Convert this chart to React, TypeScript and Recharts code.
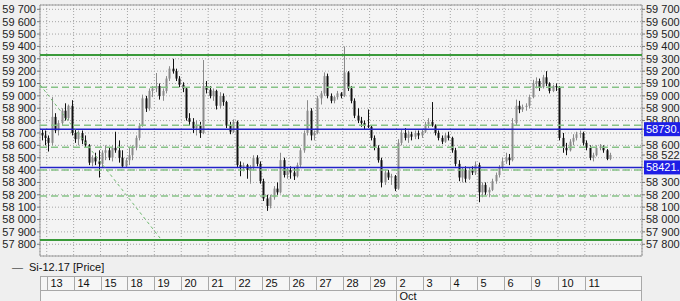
import React from 'react';
import { ComposedChart, Bar, XAxis, YAxis, CartesianGrid, ReferenceLine, ReferenceArea } from 'recharts';

// ---- data (hourly-ish candles, 8 per trading day) ----
const dayLabels = ['13','14','15','18','19','20','21','22','25','26','27','28','29','2','3','4','5','6','9','10','11'];
const monthLabels = [{ day: '2', text: 'Oct' }];
const firstDaySlot = 2;
const slotsPerDay = 8;
const totalSlots = 179;

const opens = [
  58700,58680,
  58660,58620,58830,58720,58780,58880,58820,58920,
  58700,58650,58700,58640,58600,58460,58500,58470,
  58450,58540,58560,58500,58580,58560,58500,58430,
  58480,58520,58580,58660,58760,58980,58900,59040,
  59060,59080,59000,59040,59140,59220,59200,59140,
  59090,59060,58820,58790,58740,58760,58700,59080,
  59050,59000,59040,58920,59000,58950,58760,58710,
  58790,58440,58420,58440,58400,58420,58500,58450,
  58310,58170,58110,58180,58250,58220,58480,58360,
  58400,58380,58350,58440,58560,58700,58880,58680,
  58700,58980,59020,59160,59000,58960,58990,59020,
  59000,59190,59060,58960,58840,58800,58780,58760,
  58750,58660,58580,58480,58300,58380,58340,58350,
  58250,58620,58700,58660,58690,58670,58700,58680,
  58710,58770,58790,58760,58700,58660,58630,58680,
  58660,58560,58450,58340,58400,58330,58400,58380,
  58440,58220,58280,58220,58240,58310,58360,58420,
  58470,58500,58480,58780,58920,58890,58910,58920,
  58990,59100,59120,59070,59150,59100,59040,59080,
  59070,58660,58580,58560,58630,58660,58690,58700,
  58620,58580,58500,58520,58580,58590,58560,58490,
];
const highs = [
  58730,58720,
  58680,58990,58860,58800,58900,58940,58930,58965,
  58730,58720,58720,58680,58610,58520,58540,58560,
  58560,58600,58580,58600,58710,58640,58560,58500,
  58580,58600,58680,58780,59010,59000,59060,59080,
  59185,59100,59060,59160,59240,59300,59220,59160,
  59110,59070,58860,58820,58800,58790,59290,59120,
  59080,59060,59050,59030,59020,58960,58790,58810,
  58800,58470,58460,58450,58440,58520,58520,58470,
  58330,58200,58200,58270,58300,58540,58500,58420,
  58430,58420,58460,58580,58720,58965,58900,58720,
  59000,59040,59190,59180,59020,59000,59040,59030,
  59400,59200,59080,58980,58900,58830,58800,58890,
  58760,58680,58600,58500,58400,58400,58370,58360,
  58650,58730,58740,58720,58710,58720,58720,58730,
  58790,58820,58950,58770,58720,58680,58700,58710,
  58670,58580,58480,58420,58430,58420,58430,58470,
  58460,58300,58300,58260,58330,58380,58440,58500,
  58540,58530,58820,58970,58960,58930,58940,59010,
  59130,59150,59140,59170,59200,59110,59090,59100,
  59080,58700,58620,58650,58690,58710,58720,58710,
  58640,58600,58540,58600,58610,58600,58570,58540,
];
const lows = [
  58640,58600,
  58550,58600,58700,58680,58760,58800,58800,58680,
  58620,58600,58610,58580,58440,58430,58440,58340,
  58420,58480,58480,58470,58540,58460,58420,58420,
  58440,58480,58560,58640,58750,58870,58880,58990,
  59030,58970,58960,59020,59120,59180,59120,59070,
  59030,58800,58760,58700,58680,58660,58690,59020,
  58980,58960,58890,58900,58920,58740,58690,58700,
  58420,58350,58390,58330,58290,58400,58430,58290,
  58150,58070,58090,58160,58200,58210,58340,58330,
  58330,58320,58340,58420,58540,58680,58640,58640,
  58690,58930,59000,58980,58940,58940,58970,58980,
  58990,59040,58940,58820,58780,58750,58730,58740,
  58640,58560,58460,58260,58280,58320,58280,58230,
  58240,58600,58640,58620,58640,58650,58650,58660,
  58700,58740,58750,58680,58640,58610,58620,58640,
  58540,58430,58310,58300,58300,58320,58360,58360,
  58140,58180,58200,58180,58230,58290,58340,58400,
  58450,58440,58470,58760,58860,58870,58880,58900,
  58980,59060,59040,59060,59080,59020,59030,59040,
  58640,58540,58520,58550,58600,58640,58660,58600,
  58560,58480,58470,58510,58560,58540,58480,58480,
];
const closes = [
  58680,58660,
  58620,58830,58720,58780,58880,58820,58920,58700,
  58650,58700,58640,58600,58460,58500,58470,58450,
  58540,58560,58500,58580,58560,58500,58430,58480,
  58520,58580,58660,58760,58980,58900,59040,59060,
  59080,59000,59040,59140,59220,59200,59140,59090,
  59060,58820,58790,58740,58760,58700,59080,59050,
  59000,59040,58920,59000,58950,58760,58710,58790,
  58440,58420,58440,58400,58420,58500,58450,58310,
  58170,58110,58180,58250,58220,58480,58360,58400,
  58380,58350,58440,58560,58700,58880,58680,58700,
  58980,59020,59160,59000,58960,58990,59020,59000,
  59190,59060,58960,58840,58800,58780,58760,58750,
  58660,58580,58480,58300,58380,58340,58350,58250,
  58620,58700,58660,58690,58670,58700,58680,58710,
  58770,58790,58760,58700,58660,58630,58680,58660,
  58560,58450,58340,58400,58330,58400,58380,58440,
  58220,58280,58220,58240,58310,58360,58420,58470,
  58500,58480,58780,58920,58890,58910,58920,58990,
  59100,59120,59070,59150,59100,59040,59080,59070,
  58660,58580,58560,58630,58660,58690,58700,58620,
  58580,58500,58520,58580,58590,58560,58490,58522,
];

const solidGreenLevels = [59330, 57835];
const dashedGreenLevels = [59070, 58762, 58585, 58400, 58190];
const blueLevels = [58730.7, 58421.3];
const lastPrice = 58522;
const trendLine = [{ slot: 0, price: 59090 }, { slot: 35.7, price: 57850 }];
const yTicks = [57800,57900,58000,58100,58200,58300,58400,58500,58600,58700,58800,58900,59000,59100,59200,59300,59400,59500,59600,59700];
const yDomain = [57705, 59735];
const legendLabel = 'Si-12.17 [Price]';

const data = opens.map((o, i) => ({ t: i + 0.5, o, h: highs[i], l: lows[i], c: closes[i] }));
const dayTicks = dayLabels.map((_, k) => firstDaySlot + slotsPerDay * k);

const FONT = '"Liberation Sans", Arial, sans-serif';
const fmt = (v: number) => String(v).replace(/\B(?=(\d{3})+(?!\d))/g, ' ');

const hiddenRight = [58400, 58500, 58700];
const rightTicks = [...yTicks.filter((v) => !hiddenRight.includes(v)), lastPrice, ...blueLevels];

const Candle = (props: any) => {
  const { x, y, width, height, payload } = props;
  if (!payload || x == null) return null;
  const { o, h, l, c } = payload;
  const span = h - l || 1;
  const py = (v: number) => y + ((h - v) / span) * height;
  const cx = Math.round(x + width / 2) + 0.5;
  const up = c >= o;
  const color = up ? '#8a8a8a' : '#111111';
  const top = py(Math.max(o, c));
  const bot = py(Math.min(o, c));
  return (
    <g>
      <line x1={cx} x2={cx} y1={y} y2={y + height} stroke={color} strokeWidth={1} />
      <rect x={cx - 1} y={top} width={2} height={Math.max(1, bot - top)} fill={color} />
    </g>
  );
};

const LeftTick = (props: any) => {
  const { x, y, payload } = props;
  return (
    <text x={x} y={y} dy="0.35em" textAnchor="end" fill="#222" fontSize={11} fontFamily={FONT}>{fmt(payload.value)}</text>
  );
};

const RightTick = (props: any) => {
  const { x, y, payload } = props;
  const v = payload.value;
  if (blueLevels.includes(v)) {
    return (
      <g>
        <rect x={x - 2} y={y - 7} width={44} height={14} fill="#1e1ee6" />
        <text x={x} y={y} dy="0.35em" fill="#ffffff" fontSize={11} fontFamily={FONT}>{String(v)}</text>
      </g>
    );
  }
  return (
    <text x={x} y={y} dy="0.35em" fill="#222" fontSize={11} fontFamily={FONT}>{fmt(v)}</text>
  );
};

const DayTick = (props: any) => {
  const { x, y, payload } = props;
  const k = dayTicks.indexOf(payload.value);
  const label = dayLabels[k];
  const month = monthLabels.find((m) => m.day === label);
  const rx = Math.round(x) + 0.5;
  return (
    <g>
      <line x1={rx} x2={rx} y1={y + 20} y2={y + 34} stroke="#a8a8a8" />
      <text x={rx + 3} y={y + 27} dy="0.35em" fill="#111" fontSize={11} fontFamily={FONT}>{label}</text>
      {month && (
        <g>
          <line x1={rx} x2={rx} y1={y + 34} y2={y + 45} stroke="#a8a8a8" />
          <text x={rx + 3} y={y + 40} dy="0.35em" fill="#111" fontSize={11} fontFamily={FONT}>{month.text}</text>
        </g>
      )}
    </g>
  );
};

export default function App() {
  return (
    <div style={{ position: 'absolute', left: 0, top: 0, width: 680, height: 301, background: '#efefef', overflow: 'hidden' }}>
      <div style={{ position: 'absolute', left: 40, top: 276, width: 602, height: 30, background: '#f6f6f6', border: '1px solid #a8a8a8', boxSizing: 'border-box' }} />
      <div style={{ position: 'absolute', left: 40, top: 290, width: 602, height: 1, background: '#a8a8a8' }} />
      <div style={{ position: 'absolute', left: 12, top: 261, fontFamily: FONT, fontSize: 11, color: '#111', whiteSpace: 'nowrap' }}>
        <span style={{ color: '#555', marginRight: 6 }}>—</span>{legendLabel}
      </div>
      <div style={{ position: 'absolute', left: 0, top: 0 }}>
        <ComposedChart width={680} height={301} data={data} margin={{ top: 5, right: 0, bottom: 0, left: 0 }}>
          <CartesianGrid yAxisId="left" stroke="#a4a4a4" strokeDasharray="1 2" fill="#f4f4f4" />
          <XAxis
            dataKey="t"
            type="number"
            domain={[0, totalSlots]}
            ticks={dayTicks}
            interval={0}
            height={45}
            axisLine={false}
            tickLine={false}
            tickSize={0}
            tickMargin={0}
            tick={<DayTick />}
          />
          <YAxis
            yAxisId="left"
            type="number"
            domain={yDomain}
            ticks={yTicks}
            interval={0}
            width={40}
            tickSize={3}
            tickMargin={1}
            axisLine={false}
            tickLine={{ stroke: '#777' }}
            tick={<LeftTick />}
            allowDataOverflow
          />
          <YAxis
            yAxisId="right"
            orientation="right"
            type="number"
            domain={yDomain}
            ticks={rightTicks}
            interval={0}
            width={38}
            tickSize={3}
            tickMargin={1}
            axisLine={false}
            tickLine={{ stroke: '#777' }}
            tick={<RightTick />}
            allowDataOverflow
          />
          <ReferenceArea yAxisId="left" x1={0} x2={totalSlots} y1={yDomain[0]} y2={yDomain[1]} fill="none" stroke="#9a9a9a" strokeWidth={1} />
          {dashedGreenLevels.map((v) => (
            <ReferenceLine key={'d' + v} yAxisId="left" y={v} stroke="#86c286" strokeWidth={1.5} strokeDasharray="7 4" />
          ))}
          {solidGreenLevels.map((v) => (
            <ReferenceLine key={'s' + v} yAxisId="left" y={v} stroke="#3a9a3a" strokeWidth={2} />
          ))}
          {blueLevels.map((v) => (
            <ReferenceLine key={'b' + v} yAxisId="left" y={v} stroke="#2222c8" strokeWidth={1.6} />
          ))}
          <ReferenceLine
            yAxisId="left"
            segment={[{ x: trendLine[0].slot, y: trendLine[0].price }, { x: trendLine[1].slot, y: trendLine[1].price }]}
            stroke="#6fb86f"
            strokeWidth={1}
            strokeDasharray="3 3"
          />
          <Bar
            yAxisId="left"
            dataKey={(d: any) => [d.l, d.h]}
            barSize={3}
            shape={<Candle />}
            isAnimationActive={false}
          />
        </ComposedChart>
      </div>
    </div>
  );
}
